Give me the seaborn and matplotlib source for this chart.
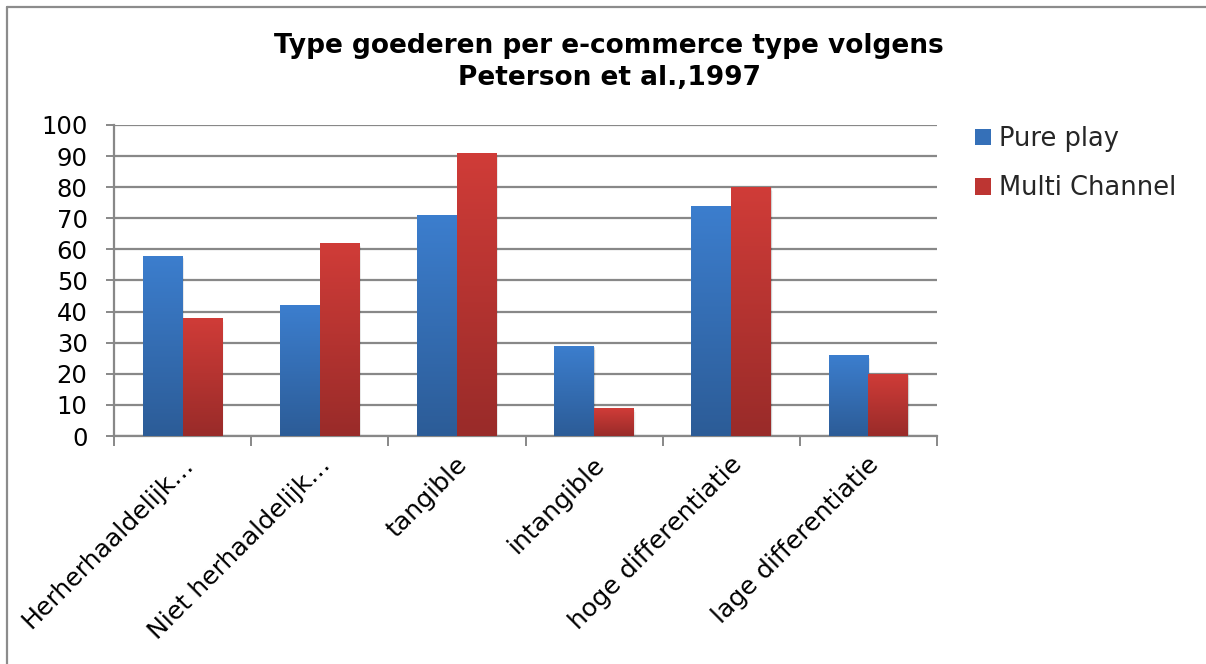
import numpy as np
import pandas as pd
import matplotlib
matplotlib.use("Agg")
import matplotlib.pyplot as plt
from matplotlib.colors import LinearSegmentedColormap
from matplotlib.lines import Line2D
from matplotlib.patches import Rectangle
from matplotlib.transforms import ScaledTranslation
import seaborn as sns

# --- data -------------------------------------------------------------
categories = ["Herherhaaldelijk…", "Niet herhaaldelijk…", "tangible",
              "intangible", "hoge differentiatie", "lage differentiatie"]
series_names = ["Pure play", "Multi Channel"]
pure_play = [58, 42, 71, 29, 74, 26]
multi_channel = [38, 62, 91, 9, 80, 20]
y_ticks = list(range(0, 101, 10))
title_text = "Type goederen per e-commerce type volgens\nPeterson et al.,1997"

df = pd.DataFrame({
    "category": categories * 2,
    "series": [series_names[0]] * len(categories) + [series_names[1]] * len(categories),
    "value": pure_play + multi_channel,
})

# --- styling ----------------------------------------------------------
sns.set_theme(style="white")
plt.rcParams["font.family"] = ["DejaVu Sans"]

blue_top, blue_bot = "#3C7ECE", "#2C5C97"
red_top, red_bot = "#D03C38", "#992B29"
grid_col = "#888888"

fig = plt.figure(figsize=(12.06, 6.64), dpi=100)
W, H = 1206, 664
ax = fig.add_axes([114 / W, 1 - 436 / H, (937 - 114) / W, (436 - 125) / H])

sns.barplot(data=df, x="category", y="value", hue="series",
            order=categories, hue_order=series_names,
            palette=[blue_top, red_top], saturation=1, width=0.58,
            ax=ax, legend=False, zorder=3)

ax.set_ylim(0, 100)
ax.set_xlim(-0.5, len(categories) - 0.5)

# vertical gradient on each bar, clipped to the bar outline
gradients = {0: (blue_top, blue_bot), 1: (red_top, red_bot)}
for hue_idx, container in enumerate(ax.containers):
    top, bot = gradients[hue_idx]
    cmap = LinearSegmentedColormap.from_list(f"g{hue_idx}", [bot, top])
    grad = np.linspace(0, 1, 256).reshape(-1, 1)
    for bar in container:
        x0, y0 = bar.get_x(), bar.get_y()
        w, h = bar.get_width(), bar.get_height()
        # soft shadow to the right of the bar
        for k, a in enumerate([0.10, 0.06, 0.03]):
            ax.add_patch(Rectangle((x0 + 0.004 * (k + 1), y0), w, h - 0.4 * (k + 1),
                                   facecolor="#000000", alpha=a, edgecolor="none",
                                   zorder=2))
        bar.set_edgecolor("none")
        im = ax.imshow(grad, cmap=cmap, origin="lower", aspect="auto",
                       extent=[x0, x0 + w, y0, y0 + h], zorder=3.5,
                       interpolation="bilinear")
        im.set_clip_path(bar)

ax.set_ylim(0, 100)
ax.set_xlim(-0.5, len(categories) - 0.5)

# axes, grid and ticks
ax.set_yticks(y_ticks)
ax.yaxis.grid(True, color=grid_col, linewidth=1.6, zorder=0)
ax.xaxis.grid(False)
ax.set_axisbelow(True)
for side in ["top", "right"]:
    ax.spines[side].set_visible(False)
for side in ["left", "bottom"]:
    ax.spines[side].set_color(grid_col)
    ax.spines[side].set_linewidth(1.6)

ax.tick_params(axis="y", which="major", length=6, width=1.4, color=grid_col,
               left=True, pad=13, labelsize=17.5, labelcolor="#000000")
ax.set_xticks(range(len(categories)))
ax.set_xticks(np.arange(-0.5, len(categories), 1.0), minor=True)
ax.tick_params(axis="x", which="major", length=0, pad=18, labelsize=18.2,
               labelcolor="#000000")
ax.tick_params(axis="x", which="minor", length=7, width=1.4, color=grid_col,
               bottom=True)
ax.set_xticklabels(categories, rotation=45, ha="right", rotation_mode="anchor",
                   va="center")
# nudge the rotated category labels slightly to the right
shift = ScaledTranslation(7 / 100, 0, fig.dpi_scale_trans)
for lbl in ax.get_xticklabels():
    lbl.set_transform(lbl.get_transform() + shift)
ax.set_xlabel("")
ax.set_ylabel("")

# legend
handles = [Rectangle((0, 0), 1, 1, facecolor=c, edgecolor="none")
           for c in ["#3570B8", "#BD3532"]]
leg = fig.legend(handles, series_names, loc="upper left",
                 bbox_to_anchor=(965 / W, 1 - 116 / H), frameon=False,
                 fontsize=18.5, handlelength=0.6, handleheight=0.6,
                 handletextpad=0.32, labelspacing=0.9, borderaxespad=0)

# title
fig.text(0.505, 1 - 62 / H, title_text, ha="center", va="center",
         fontsize=19, fontweight="bold", linespacing=1.3, color="#000000")

# chart frame (left and top edges)
fig.add_artist(Line2D([7 / W, 7 / W], [0, 1 - 7 / H], transform=fig.transFigure,
                      color="#8C8C8C", linewidth=1.6))
fig.add_artist(Line2D([7 / W, 1], [1 - 7 / H, 1 - 7 / H], transform=fig.transFigure,
                      color="#8C8C8C", linewidth=1.6))

fig.savefig("out.png", dpi=100, facecolor="white")
